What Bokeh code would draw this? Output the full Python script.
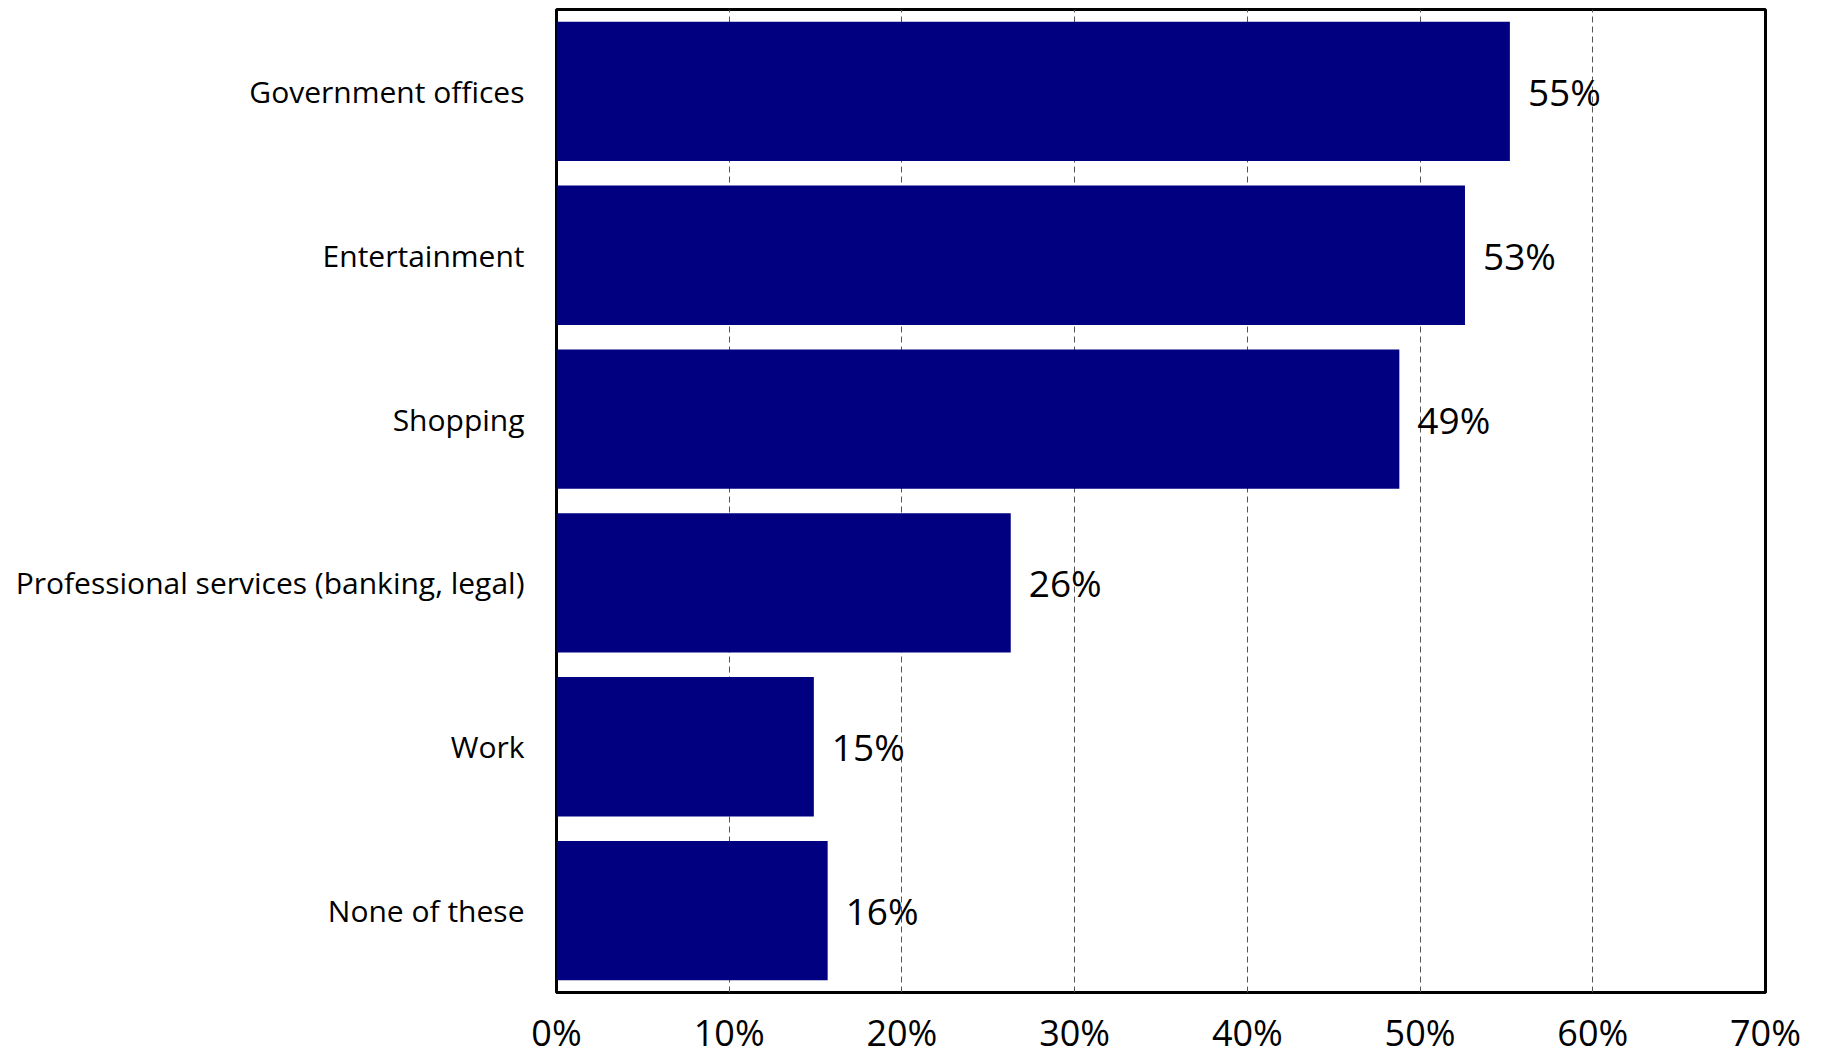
from bokeh.plotting import figure
from bokeh.models import ColumnDataSource, FactorRange, Range1d, FixedTicker, CustomJSTickFormatter
from bokeh.core.properties import value
from bokeh.embed import file_html
from bokeh.resources import INLINE

categories = ["Government offices", "Entertainment", "Shopping",
              "Professional services (banking, legal)", "Work", "None of these"]
shares = [55.2, 52.6, 48.8, 26.3, 14.9, 15.7]
share_labels = ["55%", "53%", "49%", "26%", "15%", "16%"]
x_ticks = [0, 10, 20, 30, 40, 50, 60, 70]

FONT = "Open Sans"

src = ColumnDataSource(dict(cat=categories, val=shares, lab=share_labels))

p = figure(y_range=FactorRange(*categories[::-1], range_padding=0),
           x_range=Range1d(0, 70),
           frame_width=1209, frame_height=983,
           min_border_left=556, min_border_right=50, min_border_top=9, min_border_bottom=64,
           output_backend="svg", toolbar_location=None)

p.hbar(y="cat", right="val", left=0, height=0.85, source=src,
       fill_color="#000080", line_color=None)

p.text(x="val", y="cat", text="lab", source=src, x_offset=18,
       text_baseline="middle", text_align="left", text_font=value(FONT),
       text_font_size="37px", text_color="#000000")

p.outline_line_color = "#000000"
p.outline_line_width = 3
p.outline_line_alpha = 1

p.ygrid.grid_line_color = None
p.xgrid.grid_line_color = "#555555"
p.xgrid.grid_line_dash = "6 4"
p.xgrid.grid_line_width = 1
p.xgrid.ticker = FixedTicker(ticks=x_ticks)

p.xaxis.ticker = FixedTicker(ticks=x_ticks)
p.xaxis.formatter = CustomJSTickFormatter(code="return tick + '%';")
p.xaxis.axis_line_color = None
p.xaxis.major_tick_line_color = None
p.xaxis.minor_tick_line_color = None
p.xaxis.major_label_standoff = 9
p.xaxis.major_label_text_font = FONT
p.xaxis.major_label_text_font_size = "36px"
p.xaxis.major_label_text_color = "#000000"

p.yaxis.axis_line_color = None
p.yaxis.major_tick_line_color = None
p.yaxis.minor_tick_line_color = None
p.yaxis.major_label_standoff = 26
p.yaxis.major_label_text_font = FONT
p.yaxis.major_label_text_font_size = "30px"
p.yaxis.major_label_text_color = "#000000"

p.background_fill_color = "#ffffff"
p.border_fill_color = "#ffffff"

open("out.html", "w").write(file_html(p, INLINE))
